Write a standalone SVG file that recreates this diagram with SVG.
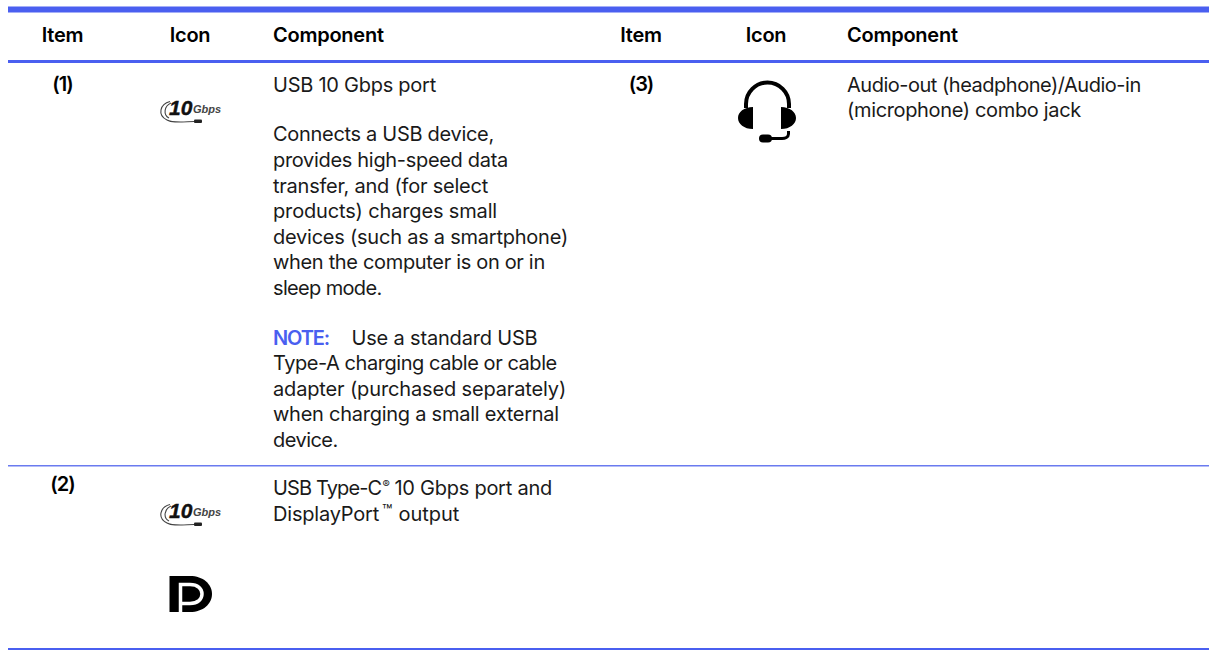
<svg xmlns="http://www.w3.org/2000/svg" width="1209" height="650" viewBox="0 0 1209 650">
<style>
text{font-family:"Inter","Liberation Sans",sans-serif;fill:#1a1a1a;font-size:20px;letter-spacing:-.2px}
.h{font-weight:600;fill:#000;letter-spacing:-.25px}
.p{letter-spacing:-1px}
.n{fill:#4a5ff0;font-weight:600}
.m{text-anchor:middle}
.s{font-size:11px}
.t{font-size:17px}
.ten{font-family:"Liberation Sans",sans-serif;font-style:italic;font-weight:700;font-size:21px;letter-spacing:0;fill:#111;stroke:#111;stroke-width:.4px}
.gb{font-family:"Liberation Sans",sans-serif;font-style:italic;font-weight:700;font-size:11px;letter-spacing:0;fill:#444}
</style>
<defs>
<g id="usb10">
<path d="M20 11.500C10 14 7 25 17 30C22 33 30 32 44 31.500M21 13C14 16 13 25 19 28" fill="none" stroke="#444" stroke-width="1.100"/>
<rect x="44" y="29.500" width="8" height="3.500" rx="1" fill="#222"/>
<text class="ten" x="19" y="25">10</text>
<text class="gb" x="43" y="23">Gbps</text>
</g>
</defs>
<g id="rules">
<rect x="8" y="6.500" width="1201" height="6" fill="#4a5ff0"/>
<rect x="8" y="60" width="1201" height="3" fill="#4a5ff0"/>
<rect x="8" y="465" width="1201" height="1.500" fill="#6a7bef"/>
<rect x="8" y="648" width="1201" height="2" fill="#4a5ff0"/>
</g>
<g id="header">
<text class="h m" x="62.500" y="42">Item</text><text class="h m" x="190" y="42">Icon</text><text class="h" x="273" y="42">Component</text>
<text class="h m" x="641" y="42">Item</text><text class="h m" x="766" y="42">Icon</text><text class="h" x="847" y="42">Component</text>
</g>
<g id="row1">
<text class="h p m" x="62.500" y="91">(1)</text>
<use href="#usb10" x="150" y="90"/>
<text x="273" y="92" textLength="163">USB 10 Gbps port</text>
<text x="273" y="141" textLength="221">Connects a USB device,</text>
<text x="273" y="167" textLength="235">provides high-speed data</text>
<text x="273" y="192.500" textLength="215">transfer, and (for select</text>
<text x="273" y="218" textLength="224">products) charges small</text>
<text x="273" y="244" textLength="295">devices (such as a smartphone)</text>
<text x="273" y="269" textLength="272">when the computer is on or in</text>
<text x="273" y="295" textLength="109">sleep mode.</text>
<text x="273" y="345"><tspan class="n" textLength="57">NOTE:</tspan><tspan x="351.500" textLength="186">Use a standard USB</tspan></text>
<text x="273" y="370" textLength="284">Type-A charging cable or cable</text>
<text x="273" y="396" textLength="293">adapter (purchased separately)</text>
<text x="273" y="421" textLength="286">when charging a small external</text>
<text x="273" y="447" textLength="65">device.</text>
</g>
<g id="row2">
<text class="h p m" x="62.500" y="491">(2)</text>
<use href="#usb10" x="150" y="493"/>
<text x="273" y="495"><tspan textLength="109">USB Type-C</tspan><tspan class="s" x="382.500" dy="-7">®</tspan><tspan x="389" dy="7" textLength="163"> 10 Gbps port and</tspan></text>
<text x="273" y="521">DisplayPort<tspan class="t" x="382" dy="-4">™</tspan><tspan x="393" dy="4" textLength="66"> output</tspan></text>
<path id="dp" fill="#000" d="M169.500 576H190C203 576 212 584 212 594C212 604 203 612 190 612H169.500Z"/>
<path d="M180.500 612V584.500H190C198 584.500 202 589 202 594C202 599 198 603.500 190 603.500H180.500" fill="none" stroke="#fff" stroke-width="3.500"/>
</g>
<g id="row3">
<text class="h p m" x="641" y="91">(3)</text>
<g id="headset"><path d="M746 108V104A21.500 21.500 0 0 1 789 104V108" fill="none" stroke="#000" stroke-width="4"/>
<path d="M753 107V129C744 129 738 124 738 118C738 112 744 107 753 107ZM781 107V129C790 129 796 124 796 118C796 112 790 107 781 107Z" fill="#000"/>
<path d="M788.500 131V134C788.500 137 785 138.500 782 138.500H770" fill="none" stroke="#000" stroke-width="3"/><rect x="759" y="134.500" width="13" height="8" rx="4" fill="#000"/></g>
<text x="847" y="92" textLength="294">Audio-out (headphone)/Audio-in</text>
<text x="847" y="117" textLength="234">(microphone) combo jack</text>
</g>
</svg>
